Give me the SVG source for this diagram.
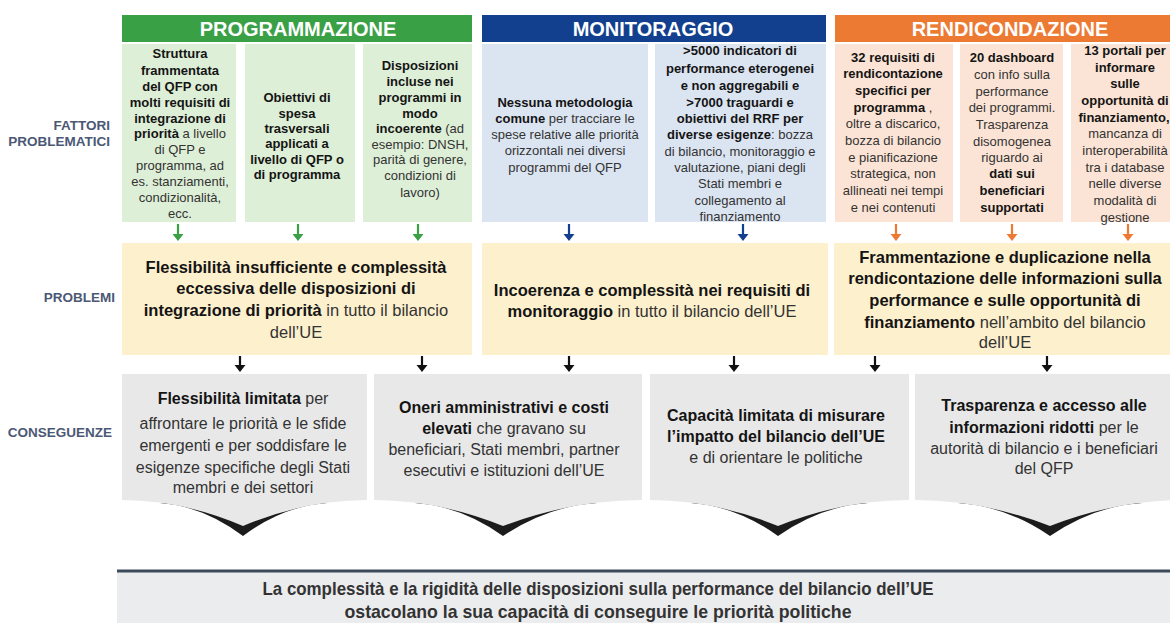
<svg xmlns="http://www.w3.org/2000/svg" width="1170" height="623" viewBox="0 0 1170 623">
<defs>
<style>
text{font-family:"Liberation Sans",Arial,sans-serif;text-anchor:middle;fill:#333}
.f{font-size:13px}
.p{font-size:16.5px}
.c{font-size:16px}
.b{font-weight:bold;fill:#141414}
.hd{font-size:20px;font-weight:bold;fill:#fff}
.lab{font-size:13.5px;font-weight:bold;fill:#4b5875;text-anchor:end}
.g{fill:#deefd7}.bl{fill:#dbe4f1}.o{fill:#fbe4d5}.y{fill:#fdf0cd}.gr{fill:#e8e8e8}
.sh{fill:#1c1c1c}
</style>
</defs>

<!-- row labels -->
<g id="labels">
<text class="lab" x="110" y="130">FATTORI</text>
<text class="lab" x="110" y="146">PROBLEMATICI</text>
<text class="lab" x="115" y="302">PROBLEMI</text>
<text class="lab" x="112" y="437">CONSEGUENZE</text>
</g>

<!-- headers -->
<g id="hdr-programmazione"><rect x="122" y="15" width="350" height="27" fill="#3aa046"/><text class="hd" x="298" y="35.5">PROGRAMMAZIONE</text></g>
<g id="hdr-monitoraggio"><rect x="482" y="15" width="344" height="27" fill="#12408e"/><text class="hd" x="653" y="35.5">MONITORAGGIO</text></g>
<g id="hdr-rendicondazione"><rect x="835" y="15" width="335" height="27" fill="#ec7a33"/><text class="hd" x="1010" y="35.5">RENDICONDAZIONE</text></g>

<!-- factor boxes -->
<g id="f1"><rect class="g" x="122" y="44" width="114" height="178"/>
<text class="f b" x="180" y="57.5">Struttura</text>
<text class="f b" x="180" y="74.5">frammentata</text>
<text class="f b" x="180" y="90.5">del QFP con</text>
<text class="f b" x="180" y="106.5">molti requisiti di</text>
<text class="f b" x="180" y="122.5">integrazione di</text>
<text class="f" x="180" y="137.5"><tspan class="b">priorità</tspan> a livello</text>
<text class="f" x="180" y="153.5">di QFP e</text>
<text class="f" x="180" y="169.5">programma, ad</text>
<text class="f" x="180" y="186">es. stanziamenti,</text>
<text class="f" x="180" y="201.5">condizionalità,</text>
<text class="f" x="180" y="217.5">ecc.</text>
</g>
<g id="f2"><rect class="g" x="245" y="44" width="110" height="178"/>
<text class="f b" x="297" y="101.5">Obiettivi di</text>
<text class="f b" x="297" y="117.5">spesa</text>
<text class="f b" x="297" y="132.5">trasversali</text>
<text class="f b" x="297" y="147.5">applicati a</text>
<text class="f b" x="297" y="163.5">livello di QFP o</text>
<text class="f b" x="297" y="178.5">di programma</text>
</g>
<g id="f3"><rect class="g" x="363" y="44" width="109" height="178"/>
<text class="f b" x="420" y="69.5">Disposizioni</text>
<text class="f b" x="420" y="85.5">incluse nei</text>
<text class="f b" x="420" y="101.5">programmi in</text>
<text class="f b" x="420" y="117.5">modo</text>
<text class="f" x="420" y="132.5"><tspan class="b">incoerente</tspan> (ad</text>
<text class="f" x="420" y="148.5">esempio: DNSH,</text>
<text class="f" x="420" y="163.5">parità di genere,</text>
<text class="f" x="420" y="179.5">condizioni di</text>
<text class="f" x="420" y="196.5">lavoro)</text>
</g>
<g id="f4"><rect class="bl" x="482" y="44" width="166" height="178"/>
<text class="f b" x="565" y="106.5">Nessuna metodologia</text>
<text class="f" x="565" y="122.5"><tspan class="b">comune</tspan> per tracciare le</text>
<text class="f" x="565" y="138.5">spese relative alle priorità</text>
<text class="f" x="565" y="154.5">orizzontali nei diversi</text>
<text class="f" x="565" y="171.5">programmi del QFP</text>
</g>
<g id="f5"><rect class="bl" x="655" y="44" width="171" height="178"/>
<text class="f b" x="740" y="54.5">&gt;5000 indicatori di</text>
<text class="f b" x="740" y="72.5">performance eterogenei</text>
<text class="f b" x="740" y="89.5">e non aggregabili e</text>
<text class="f b" x="740" y="106.5">&gt;7000 traguardi e</text>
<text class="f b" x="740" y="122.5">obiettivi del RRF per</text>
<text class="f" x="740" y="138.5"><tspan class="b">diverse esigenze</tspan>: bozza</text>
<text class="f" x="740" y="155.5">di bilancio, monitoraggio e</text>
<text class="f" x="740" y="171.5">valutazione, piani degli</text>
<text class="f" x="740" y="187.5">Stati membri e</text>
<text class="f" x="740" y="204.5">collegamento al</text>
<text class="f" x="740" y="221">finanziamento</text>
</g>
<g id="f6"><rect class="o" x="835" y="44" width="118" height="178"/>
<text class="f b" x="893" y="61.5">32 requisiti di</text>
<text class="f b" x="893" y="77.5">rendicontazione</text>
<text class="f b" x="893" y="94.5">specifici per</text>
<text class="f" x="893" y="111.5"><tspan class="b">programma</tspan> ,</text>
<text class="f" x="893" y="127.5">oltre a discarico,</text>
<text class="f" x="893" y="144.5">bozza di bilancio</text>
<text class="f" x="893" y="161.5">e pianificazione</text>
<text class="f" x="893" y="177.5">strategica, non</text>
<text class="f" x="893" y="194.5">allineati nei tempi</text>
<text class="f" x="893" y="211.5">e nei contenuti</text>
</g>
<g id="f7"><rect class="o" x="960" y="44" width="103" height="178"/>
<text class="f b" x="1012" y="61.5">20 dashboard</text>
<text class="f" x="1012" y="78.5">con info sulla</text>
<text class="f" x="1012" y="95.5">performance</text>
<text class="f" x="1012" y="111.5">dei programmi.</text>
<text class="f" x="1012" y="128.5">Trasparenza</text>
<text class="f" x="1012" y="145.5">disomogenea</text>
<text class="f" x="1012" y="161.5">riguardo ai</text>
<text class="f b" x="1012" y="177.5">dati sui</text>
<text class="f b" x="1012" y="194.5">beneficiari</text>
<text class="f b" x="1012" y="211.5">supportati</text>
</g>
<g id="f8"><rect class="o" x="1071" y="44" width="99" height="178"/>
<text class="f b" x="1125" y="54.5">13 portali per</text>
<text class="f b" x="1125" y="71.5">informare</text>
<text class="f b" x="1125" y="87.5">sulle</text>
<text class="f b" x="1125" y="104.5">opportunità di</text>
<text class="f b" x="1124" y="121.5">finanziamento,</text>
<text class="f" x="1125" y="137.5">mancanza di</text>
<text class="f" x="1125" y="154.5">interoperabilità</text>
<text class="f" x="1125" y="171.5">tra i database</text>
<text class="f" x="1125" y="187.5">nelle diverse</text>
<text class="f" x="1125" y="204.5">modalità di</text>
<text class="f" x="1125" y="222">gestione</text>
</g>

<!-- problem boxes -->
<g id="p1"><rect class="y" x="122" y="243" width="350" height="112"/>
<text class="p b" x="296" y="273">Flessibilità insufficiente e complessità</text>
<text class="p b" x="296" y="294">eccessiva delle disposizioni di</text>
<text class="p" x="296" y="316"><tspan class="b">integrazione di priorità</tspan>  in tutto il bilancio</text>
<text class="p" x="296" y="338">dell’UE</text>
</g>
<g id="p2"><rect class="y" x="482" y="243" width="346" height="112"/>
<text class="p b" x="652" y="296">Incoerenza e complessità nei requisiti di</text>
<text class="p" x="652" y="317"><tspan class="b">monitoraggio</tspan>  in tutto il bilancio dell’UE</text>
</g>
<g id="p3"><rect class="y" x="834" y="243" width="336" height="112"/>
<text class="p b" x="1005" y="263">Frammentazione e duplicazione nella</text>
<text class="p b" x="1005" y="284">rendicontazione delle informazioni sulla</text>
<text class="p b" x="1005" y="306">performance e sulle opportunità di</text>
<text class="p" x="1005" y="328"><tspan class="b">finanziamento</tspan>  nell’ambito del bilancio</text>
<text class="p" x="1005" y="348">dell’UE</text>
</g>

<!-- consequence chevrons -->
<g id="c1">
<path class="sh" d="M160,503 Q203,506 243,536 Q283,506 327,503 Z"/>
<path class="gr" d="M122,374 H367 V500 Q305,500 243,526 Q182,500 122,500 Z"/>
<text class="c" x="243" y="404"><tspan class="b">Flessibilità limitata</tspan>  per</text>
<text class="c" x="243" y="429">affrontare le priorità e le sfide</text>
<text class="c" x="243" y="451">emergenti e per soddisfare le</text>
<text class="c" x="243" y="473">esigenze specifiche degli Stati</text>
<text class="c" x="243" y="493">membri e dei settori</text>
</g>
<g id="c2">
<path class="sh" d="M415,503 Q461,506 503,536 Q548,506 597,503 Z"/>
<path class="gr" d="M374,374 H642 V500 Q572,500 503,526 Q438,500 374,500 Z"/>
<text class="c b" x="504" y="413">Oneri amministrativi e costi</text>
<text class="c" x="504" y="434"><tspan class="b">elevati</tspan>  che gravano su</text>
<text class="c" x="504" y="455">beneficiari, Stati membri, partner</text>
<text class="c" x="504" y="476">esecutivi e istituzioni dell’UE</text>
</g>
<g id="c3">
<path class="sh" d="M691,503 Q736,506 778,536 Q821,506 868,503 Z"/>
<path class="gr" d="M650,374 H909 V500 Q843,500 778,526 Q714,500 650,500 Z"/>
<text class="c b" x="776" y="421">Capacità limitata di misurare</text>
<text class="c b" x="776" y="442">l’impatto del bilancio dell’UE</text>
<text class="c" x="776" y="463">e di orientare le politiche</text>
</g>
<g id="c4">
<path class="sh" d="M958,503 Q1006,506 1050,536 Q1094,506 1142,503 Z"/>
<path class="gr" d="M915,374 H1185 V500 Q1117,500 1050,526 Q982,500 915,500 Z"/>
<text class="c b" x="1044" y="411">Trasparenza e accesso alle</text>
<text class="c" x="1044" y="433"><tspan class="b">informazioni ridotti</tspan>  per le</text>
<text class="c" x="1044" y="454">autorità di bilancio e i beneficiari</text>
<text class="c" x="1044" y="474">del QFP</text>
</g>

<!-- connectors -->
<g id="connectors" stroke-width="2.2">
<g stroke="#3aa046" fill="#3aa046">
<path d="M178,224 V235"/><path d="M172.5,234 L183.5,234 L178,241 Z" stroke="none"/>
<path d="M298,224 V235"/><path d="M292.5,234 L303.5,234 L298,241 Z" stroke="none"/>
<path d="M418,224 V235"/><path d="M412.5,234 L423.5,234 L418,241 Z" stroke="none"/>
</g>
<g stroke="#12408e" fill="#12408e">
<path d="M569,224 V235"/><path d="M563.5,234 L574.5,234 L569,241 Z" stroke="none"/>
<path d="M743,224 V235"/><path d="M737.5,234 L748.5,234 L743,241 Z" stroke="none"/>
</g>
<g stroke="#ec7a33" fill="#ec7a33">
<path d="M896,224 V235"/><path d="M890.5,234 L901.5,234 L896,241 Z" stroke="none"/>
<path d="M1012,224 V235"/><path d="M1006.5,234 L1017.5,234 L1012,241 Z" stroke="none"/>
<path d="M1128,224 V235"/><path d="M1122.5,234 L1133.5,234 L1128,241 Z" stroke="none"/>
</g>
<g stroke="#111" fill="#111">
<path d="M240,356 V366"/><path d="M234.5,365 L245.5,365 L240,372 Z" stroke="none"/>
<path d="M422,356 V366"/><path d="M416.5,365 L427.5,365 L422,372 Z" stroke="none"/>
<path d="M569,356 V366"/><path d="M563.5,365 L574.5,365 L569,372 Z" stroke="none"/>
<path d="M734,356 V366"/><path d="M728.5,365 L739.5,365 L734,372 Z" stroke="none"/>
<path d="M875,356 V366"/><path d="M869.5,365 L880.5,365 L875,372 Z" stroke="none"/>
<path d="M1047,356 V366"/><path d="M1041.5,365 L1052.5,365 L1047,372 Z" stroke="none"/>
</g>
</g>

<!-- conclusion band -->
<g id="conclusion">
<rect x="117" y="572" width="1053" height="51" fill="#ebecee"/>
<line x1="117" y1="571" x2="1170" y2="571" stroke="#3d4a5c" stroke-width="3"/>
<text x="598" y="595" font-size="19" font-weight="bold" fill="#3b4757" textLength="671" lengthAdjust="spacingAndGlyphs">La complessità e la rigidità delle disposizioni sulla performance del bilancio dell’UE</text>
<text x="598" y="618" font-size="19" font-weight="bold" fill="#3b4757" textLength="507" lengthAdjust="spacingAndGlyphs">ostacolano la sua capacità di conseguire le priorità politiche</text>
</g>
</svg>
